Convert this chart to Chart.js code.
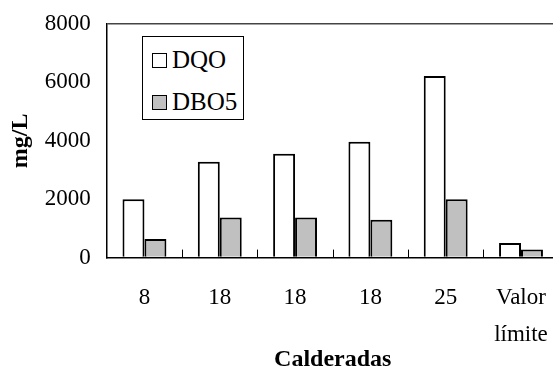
<!DOCTYPE html>
<html>
<head>
<meta charset="utf-8">
<script src="https://cdn.jsdelivr.net/npm/chart.js@4.4.0/dist/chart.umd.min.js"></script>
<style>
  html,body{margin:0;padding:0;background:#fff;overflow:hidden;}
  #wrap{position:relative;width:562px;height:374px;}
  #legend{position:absolute;left:142px;top:36px;width:100px;height:82px;border:1px solid #000;background:#fff;
    font-family:"Liberation Serif","Times New Roman",serif;font-size:25px;color:#000;}
  #legend .item{position:absolute;left:9px;height:24px;line-height:24px;white-space:nowrap;}
  #legend .sw{display:inline-block;width:13px;height:13px;border:1px solid #000;vertical-align:middle;margin-right:5px;position:relative;top:-2px;}
</style>
</head>
<body>
<div id="wrap">
  <canvas id="c" width="562" height="374"></canvas>
  <div id="legend"></div>
</div>
<script>
const CATEGORIES = ['8', '18', '18', '18', '25', ['Valor', 'límite']];
const SERIES_NAMES = ['DQO', 'DBO5'];
const DQO = [2000, 3280, 3560, 3970, 6220, 500];
const DBO5 = [640, 1370, 1370, 1300, 2000, 280];
const Y_TICKS = [0, 2000, 4000, 6000, 8000];
const COLORS = ['#ffffff', '#c0c0c0'];

const FONT = '"Liberation Serif","Times New Roman",serif';

// small inward tick marks between categories, taken from the x scale
const innerTicks = {
  id:'innerTicks',
  afterDatasetsDraw(chart){
    const xs = chart.scales.x, ctx = chart.ctx, bottom = chart.chartArea.bottom;
    ctx.save(); ctx.strokeStyle = '#000'; ctx.lineWidth = 1;
    for(let i=1;i<CATEGORIES.length;i++){
      const x = Math.round((xs.getPixelForValue(i-1)+xs.getPixelForValue(i))/2)+0.5;
      ctx.beginPath(); ctx.moveTo(x,bottom); ctx.lineTo(x,bottom-8); ctx.stroke();
    }
    ctx.restore();
  }
};

const chart = new Chart(document.getElementById('c').getContext('2d'), {
  type:'bar',
  data:{
    labels:CATEGORIES,
    datasets:[
      {label:SERIES_NAMES[0], data:DQO, backgroundColor:COLORS[0], borderColor:'#000', borderWidth:2},
      {label:SERIES_NAMES[1], data:DBO5, backgroundColor:COLORS[1], borderColor:'#000', borderWidth:2}
    ]
  },
  options:{
    responsive:false, animation:false,
    categoryPercentage:0.583, barPercentage:1.0,
    layout:{padding:{left:0,right:2,top:0,bottom:0}},
    plugins:{legend:{display:false}, tooltip:{enabled:false}},
    scales:{
      x:{
        grid:{display:false},
        border:{display:true,color:'#000',width:1.5},
        ticks:{color:'#000',font:{family:FONT,size:23,lineHeight:1.6},padding:14,maxRotation:0,autoSkip:false},
        title:{display:true,text:'Calderadas',color:'#000',font:{family:FONT,size:24,weight:'bold'},padding:{top:-22,bottom:0}}
      },
      y:{
        min:0,max:8000,
        afterBuildTicks(s){ s.ticks = Y_TICKS.map(v=>({value:v})); },
        afterFit(s){ s.paddingTop = 24; },
        grid:{drawTicks:false,color:c=>c.tick && c.tick.value===8000?'#444':'rgba(0,0,0,0)',lineWidth:1.5},
        border:{display:true,color:'#000',width:1.5},
        ticks:{color:'#000',font:{family:FONT,size:23},padding:16,callback:v=>String(v)},
        title:{display:true,text:'mg/L',color:'#000',font:{family:FONT,size:24,weight:'bold'},padding:{top:6,bottom:-6}}
      }
    }
  },
  plugins:[innerTicks]
});

// legend built from the datasets
const lg = document.getElementById('legend');
chart.data.datasets.forEach((d,i)=>{
  const el = document.createElement('div'); el.className='item';
  el.style.top = (i===0 ? 11 : 53) + 'px';
  el.innerHTML = `<span class="sw" style="background:${d.backgroundColor}"></span>${d.label}`;
  lg.appendChild(el);
});
</script>
</body>
</html>
